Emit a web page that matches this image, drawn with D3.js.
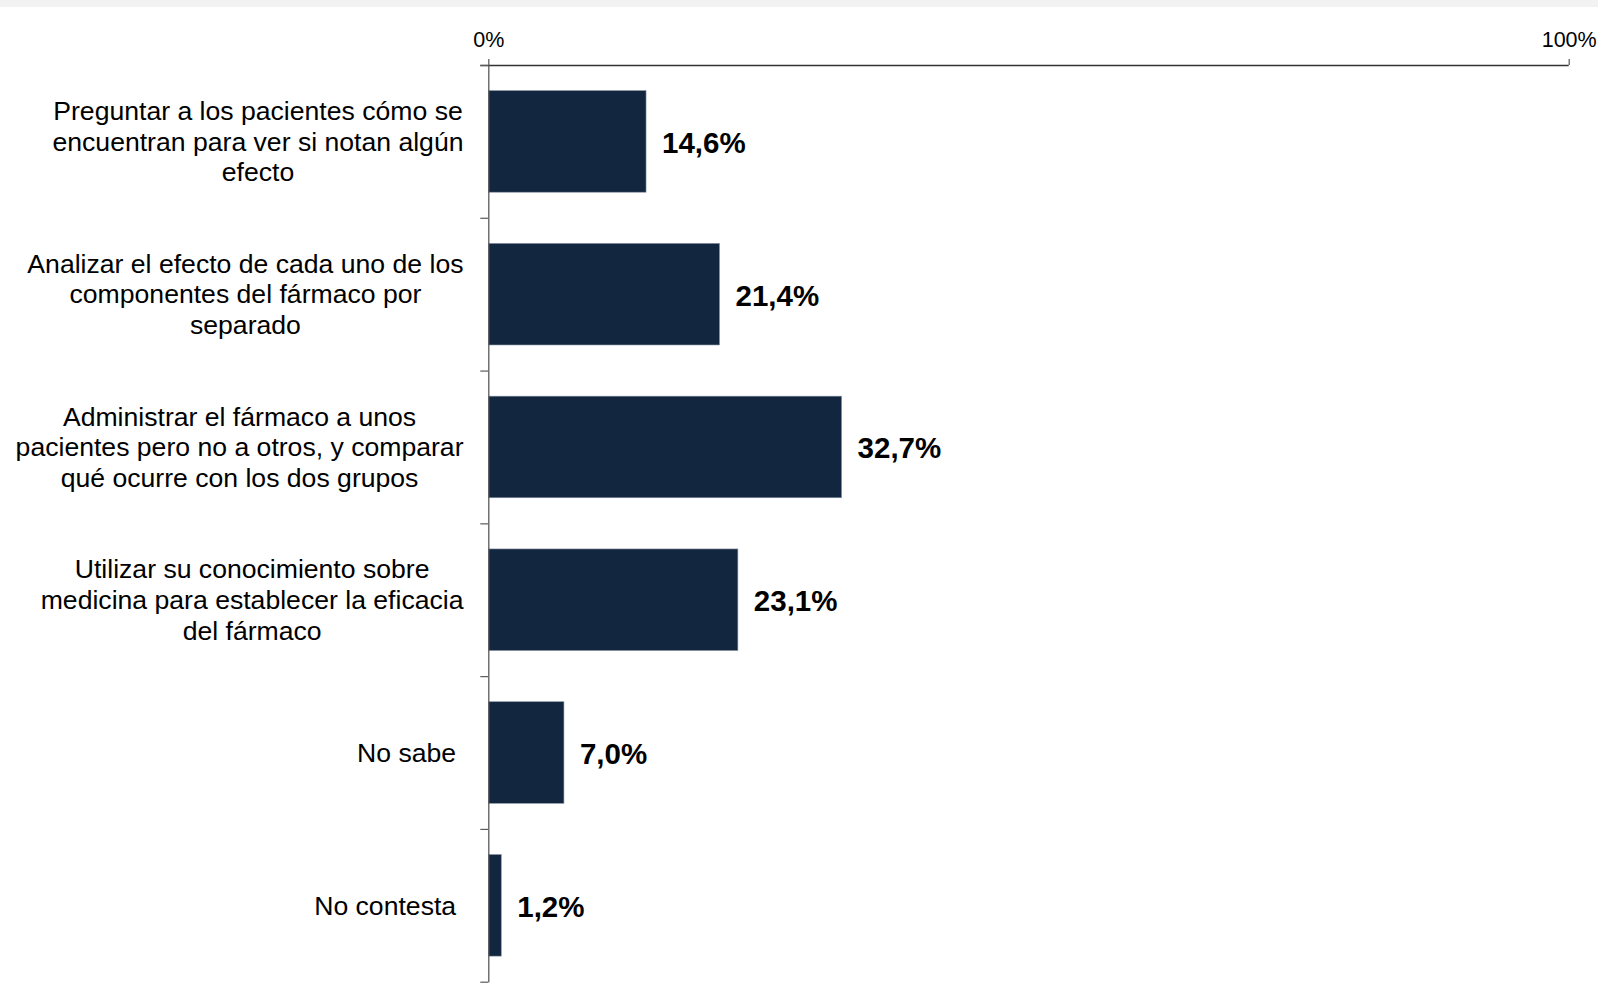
<!DOCTYPE html>
<html>
<head>
<meta charset="utf-8">
<script src="https://cdn.jsdelivr.net/npm/d3@7"></script>
<style>
  html, body { margin: 0; padding: 0; background: #ffffff; }
  svg { display: block; }
  text { font-family: "Liberation Sans", Arial, sans-serif; white-space: pre; }
</style>
</head>
<body>
<script>
// ---- data ----
const categories = [
  ["Preguntar a los pacientes cómo se", "encuentran para ver si notan algún", "efecto"],
  ["Analizar el efecto de cada uno de los", "componentes del fármaco por", "separado"],
  ["Administrar el fármaco a unos", "pacientes pero no a otros, y comparar", "qué ocurre con los dos grupos"],
  ["Utilizar su conocimiento sobre", "medicina para establecer la eficacia", "del fármaco"],
  ["No sabe "],
  ["No contesta "]
];
const values = [14.6, 21.4, 32.7, 23.1, 7.0, 1.2];
const valueLabels = ["14,6%", "21,4%", "32,7%", "23,1%", "7,0%", "1,2%"];
const axisTicks = [0, 100];
const axisTickLabels = ["0%", "100%"];

// ---- layout ----
const W = 1598, H = 996;
const svg = d3.select("body").append("svg").attr("width", W).attr("height", H);

svg.append("rect").attr("x", 0).attr("y", 0).attr("width", W).attr("height", 7).attr("fill", "#f2f2f2");

const x0 = 488.3, x1 = 1568.7, yTop = 65, yBot = 981.7;
const x = d3.scaleLinear().domain([0, 100]).range([x0, x1]);
const idx = d3.range(categories.length);
const y = d3.scaleBand().domain(idx).range([yTop, yBot]).paddingInner(0.335).paddingOuter(0.1675);
const yb = d3.scaleLinear().domain([0, categories.length]).range([yTop, yBot]);

// bars
svg.append("g").selectAll("rect").data(values).join("rect")
  .attr("x", x(0))
  .attr("y", (d, i) => y(i))
  .attr("width", d => x(d) - x(0))
  .attr("height", y.bandwidth())
  .attr("fill", "#132640")
  .attr("stroke", "#8792a2")
  .attr("stroke-width", 0.6);

// top axis
const gTop = svg.append("g").attr("transform", `translate(0,${yTop})`)
  .call(d3.axisTop(x).tickValues(axisTicks).tickSize(6).tickSizeOuter(0).tickPadding(12)
    .tickFormat((d, i) => axisTickLabels[i]));
gTop.select(".domain").attr("stroke", "#333333").attr("stroke-width", 1.4).attr("d", `M${x0 - 8},0.5H${x1}`);
gTop.selectAll(".tick line").attr("stroke", "#555555").attr("stroke-width", 1.2);
gTop.selectAll(".tick text").attr("font-family", "Liberation Sans, Arial, sans-serif")
  .attr("font-size", 21.5).attr("fill", "#000");

// left axis (boundary ticks)
const gLeft = svg.append("g").attr("transform", `translate(${x0},0)`)
  .call(d3.axisLeft(yb).tickValues(d3.range(categories.length + 1)).tickSize(8).tickSizeOuter(0).tickFormat(""));
gLeft.select(".domain").attr("stroke", "#5a5a5a").attr("stroke-width", 1.3);
gLeft.selectAll(".tick line").attr("stroke", "#5a5a5a").attr("stroke-width", 1.2);

// value labels
svg.append("g").selectAll("text").data(values).join("text")
  .attr("x", d => x(d) + 16)
  .attr("y", (d, i) => y(i) + y.bandwidth() / 2)
  .attr("dy", "0.39em")
  .attr("font-size", 29.5)
  .attr("font-weight", "bold")
  .attr("fill", "#000")
  .text((d, i) => valueLabels[i]);

// category labels
const labelRight = 463.5, lineH = 30.6, catFont = 26.6;
const gCat = svg.append("g");
categories.forEach((lines, i) => {
  const cy = y(i) + y.bandwidth() / 2;
  const g = gCat.append("g");
  const ts = lines.map((ln, j) => g.append("text")
    .attr("font-size", catFont).attr("fill", "#000")
    .attr("y", cy + (j - (lines.length - 1) / 2) * lineH)
    .attr("dy", "0.35em")
    .attr("text-anchor", "middle")
    .text(ln));
  const maxW = d3.max(ts, t => t.node().getComputedTextLength());
  ts.forEach(t => t.attr("x", labelRight - maxW / 2));
});
</script>
</body>
</html>
